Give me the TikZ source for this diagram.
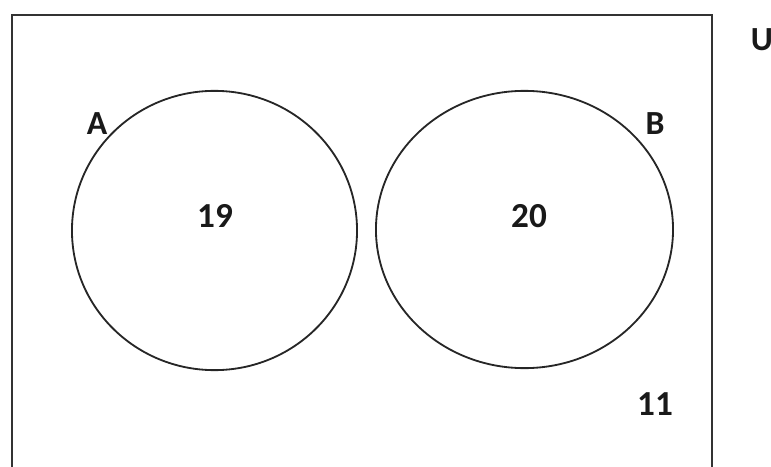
\documentclass[tikz,border=0pt]{standalone}
\usepackage{fontspec}
\setmainfont{Carlito}
\usetikzlibrary{shapes.geometric}
\tikzset{
  setring/.style ={draw=black!85, ellipse, inner sep=0pt, line width=1.3pt},
  setlbl/.style  ={font=\fontsize{24}{28}\selectfont\bfseries, text=black!90, inner sep=0pt},
  countlbl/.style={font=\fontsize{25}{30}\selectfont\bfseries, text=black!90, inner sep=0pt},
  frame/.style   ={draw=black!80, line width=1.3pt},
}
\begin{document}
\begin{tikzpicture}[x=0.025cm, y=-0.025cm]
\useasboundingbox (0,0) rectangle (771,467);

% --- universe (bottom edge lies outside the picture) ---
\coordinate (uBL) at (12,475);
\coordinate (uTL) at (12,15);
\coordinate (uTR) at (712,15);
\coordinate (uBR) at (712,475);
\draw[frame] (uBL) -- (uTL) -- (uTR) -- (uBR);
\node[setlbl] (lblU) at (762,40) {U};

% --- the two sets ---
\node[setring, minimum width=7.125cm, minimum height=6.98cm] (setA) at (214.5,230.5) {};
\node[setring, minimum width=7.425cm, minimum height=6.93cm] (setB) at (524.5,229.5) {};
\node[setlbl] (lblA) at (97,124) {A};
\node[setlbl] (lblB) at (655,124) {B};

% --- counts ---
\node[countlbl] (nA)   at (215,216) {19};
\node[countlbl] (nB)   at (529,216) {20};
\node[countlbl] (nOut) at (655,404) {11};

\end{tikzpicture}
\end{document}
